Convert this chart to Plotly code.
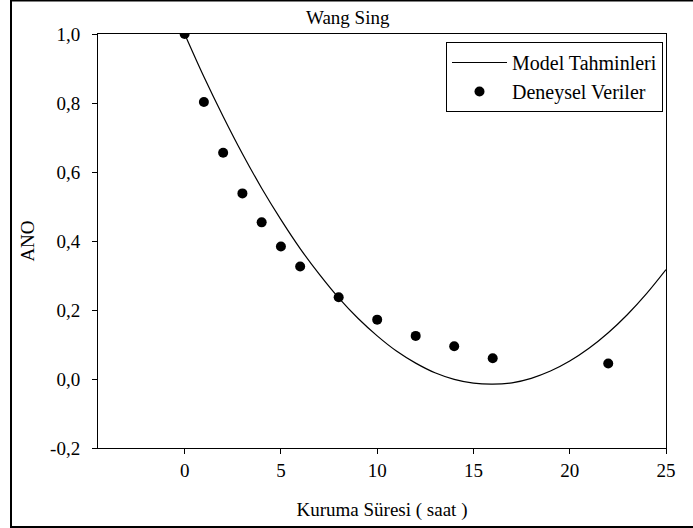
import plotly.graph_objects as go

# Deneysel veriler (kuruma süresi, saat -> ANO)
exp_time = [0, 1, 2, 3, 4, 5, 6, 8, 10, 12, 14, 16, 22]
exp_ano = [1.000, 0.803, 0.656, 0.538, 0.454, 0.384, 0.326, 0.237, 0.172, 0.125, 0.095, 0.060, 0.045]

# Wang-Sing model tahminleri
model_time = list(range(0, 26))
model_ano = [1.000, 0.876, 0.761, 0.653, 0.553, 0.462, 0.378, 0.303, 0.235, 0.176,
             0.125, 0.081, 0.046, 0.018, -0.001, -0.012, -0.015, -0.011, 0.002, 0.023,
             0.052, 0.089, 0.134, 0.187, 0.248, 0.317]

x_ticks = [0, 5, 10, 15, 20, 25]
y_ticks = [-0.2, 0.0, 0.2, 0.4, 0.6, 0.8, 1.0]
y_tick_labels = ["-0,2", "0,0", "0,2", "0,4", "0,6", "0,8", "1,0"]

FONT = "Liberation Serif"
FS = 19
W, H = 693, 528
ML, MR, MT, MB = 98, 27, 34, 80
PW, PH = W - ML - MR, H - MT - MB


def px(x):
    return (x - ML) / PW


def py(y):
    return (H - MB - y) / PH


fig = go.Figure()
fig.add_trace(go.Scatter(
    x=model_time, y=model_ano, mode="lines", name="Model Tahminleri",
    line=dict(color="black", width=1.2, shape="spline"),
))
fig.add_trace(go.Scatter(
    x=exp_time, y=exp_ano, mode="markers", name="Deneysel Veriler",
    marker=dict(color="black", size=10),
))

fig.update_layout(
    width=W, height=H,
    margin=dict(l=ML, r=MR, t=MT, b=MB),
    paper_bgcolor="white", plot_bgcolor="white",
    font=dict(family=FONT, size=FS, color="black"),
    title=dict(text="Wang Sing", x=px(383), xanchor="center", y=1 - 17 / H, yanchor="middle",
               font=dict(family=FONT, size=FS, color="black")),
    showlegend=True,
    legend=dict(
        x=px(663), xanchor="right", y=py(42), yanchor="top",
        bgcolor="white", bordercolor="black", borderwidth=1,
        font=dict(family=FONT, size=20, color="black"),
        itemwidth=55, tracegroupgap=0,
    ),
    xaxis=dict(
        range=[-4.5, 25], tickvals=x_ticks, ticks="outside", ticklen=5,
        tickcolor="black", showline=True, linecolor="black", linewidth=1,
        mirror=True, showgrid=False, zeroline=False,
        title=dict(text="Kuruma Süresi ( saat )", standoff=22,
                   font=dict(family=FONT, size=FS)),
        tickfont=dict(family=FONT, size=FS),
    ),
    yaxis=dict(
        range=[-0.2, 1.0], tickvals=y_ticks, ticktext=y_tick_labels, ticks="outside",
        ticklen=5, tickcolor="black", showline=True, linecolor="black", linewidth=1,
        mirror=True, showgrid=False, zeroline=False,
        title=dict(text="ANO", standoff=10, font=dict(family=FONT, size=FS)),
        tickfont=dict(family=FONT, size=FS),
        ticklabelstandoff=8,
    ),
    shapes=[dict(
        type="rect", xref="paper", yref="paper",
        x0=px(11), x1=px(720), y0=py(527), y1=py(0.5),
        line=dict(color="black", width=2), fillcolor="rgba(0,0,0,0)", layer="above",
    )],
)

fig.write_html("out.html")
